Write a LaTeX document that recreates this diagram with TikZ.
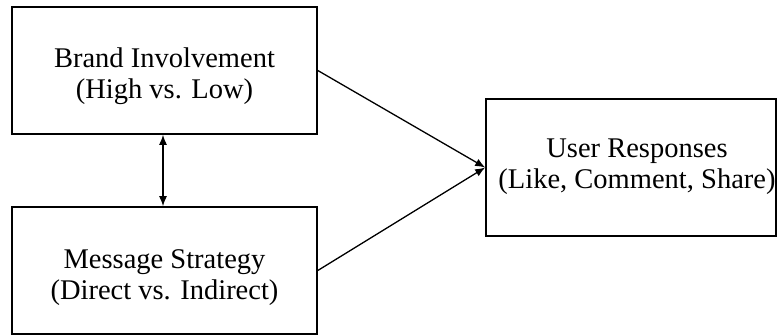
\documentclass[tikz,border=0pt]{standalone}
\usepackage{fontspec}
\setmainfont{Liberation Serif}
\usetikzlibrary{arrows.meta}
\begin{document}
\begin{tikzpicture}[x=1pt,y=-1pt,
  box/.style={draw=black,line width=1.6pt,minimum width=305pt,minimum height=127pt,inner sep=0pt},
  lbl/.style={align=center,inner sep=0pt,font=\fontsize{28.5}{31}\selectfont},
  tip/.tip={Latex[length=10pt,width=8pt]},
  link/.style={line width=1.3pt,-tip}]
\useasboundingbox (0,0) rectangle (777,336);
\node[box] (bi) at (164.5,70.5) {};
\node[box] (ms) at (164.5,270.5) {};
\node[box,minimum width=290pt,minimum height=137pt] (ur) at (631,167.5) {};
\node[lbl] (bit) at (164.5,76) {Brand Involvement\\(High vs. Low)};
\node[lbl] (mst) at (164.5,278) {Message Strategy\\(Direct vs. Indirect)};
\node[lbl] (urt) at (637,167) {User Responses\\(Like, Comment, Share)};
\draw[link] (bi.east) -- (ur.west);
\draw[link] (ms.east) -- (ur.west);
\draw[line width=1.3pt,tip-tip] (bi.south -| 163,0) -- (ms.north -| 163,0);
\end{tikzpicture}
\end{document}
